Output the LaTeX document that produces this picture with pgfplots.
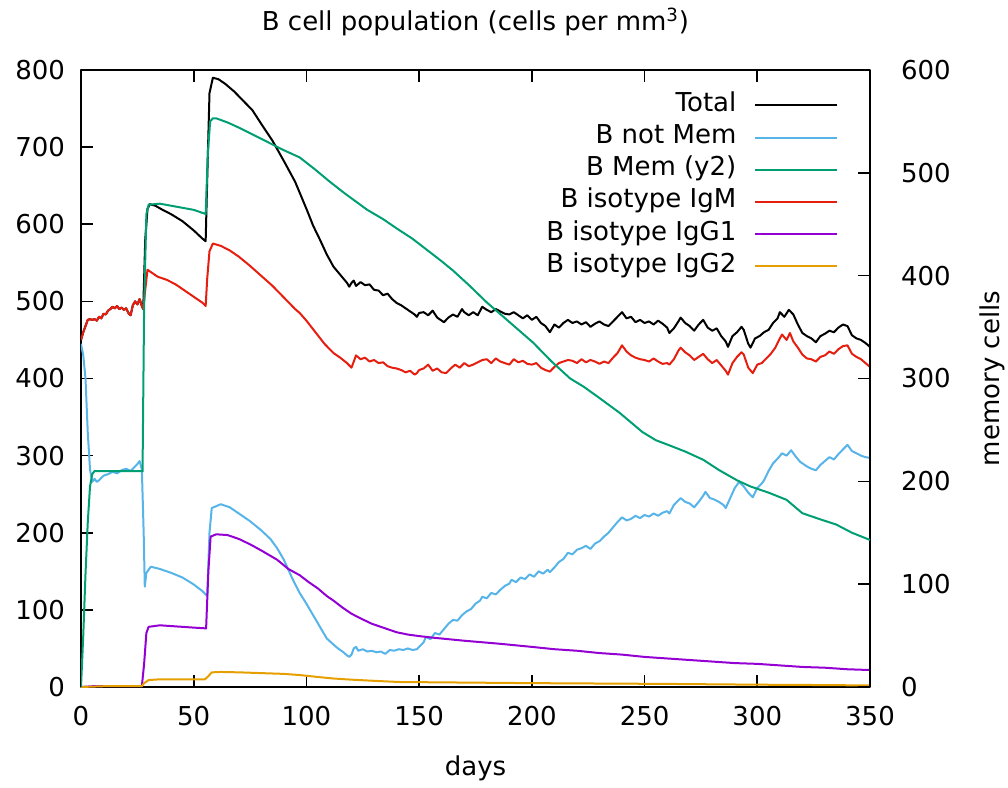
\documentclass[border=0pt]{standalone}
\usepackage{fontspec}
\setmainfont{DejaVu Sans}
\usepackage{pgfplots}
\pgfplotsset{compat=1.18}
\definecolor{cBlue}{RGB}{86,180,233}
\definecolor{cGreen}{RGB}{0,158,115}
\definecolor{cRed}{RGB}{229,30,16}
\definecolor{cPurple}{RGB}{148,0,211}
\definecolor{cOrange}{RGB}{230,159,0}
\begin{document}
\begin{tikzpicture}[x=1pt,y=1pt]
\useasboundingbox (-40.5,-50.5) rectangle (463.5,343.5);
\pgfplotsset{
  every axis/.append style={
    scale only axis, width=394.5pt, height=308.5pt,
    xmin=0, xmax=350,
    font=\fontsize{13}{15}\selectfont,
    /pgf/number format/assume math mode=true,
    tick align=inside, major tick length=6pt,
    every tick/.style={black, line width=0.8pt},
    axis line style={line width=0.9pt},
    tick label style={font=\fontsize{13}{15}\selectfont},
  }
}
\begin{axis}[
  ymin=0, ymax=800,
  xtick={0,50,...,350}, ytick={0,100,...,800},
  xtick pos=both, ytick pos=left,
  yticklabel style={xshift=-4.5pt},
  xticklabel style={yshift=-6pt},
  xlabel={days},
  xlabel style={at={(rel axis cs:0.5,0)}, anchor=center, yshift=-40.5pt},
  title={B cell population (cells per mm\textsuperscript{3})},
  title style={at={(rel axis cs:0.5,1)}, anchor=center, yshift=18pt, font=\fontsize{13}{15}\selectfont},
  legend style={at={(rel axis cs:0.968,0.976)}, anchor=north east, draw=none, fill=none,
    font=\fontsize{13}{15}\selectfont, row sep=0pt,
    nodes={inner ysep=0pt, text height=11pt, text depth=5.1pt},
    /tikz/every odd column/.append style={column sep=7pt}},
  legend cell align=right,
  legend plot pos=right,
  legend image code/.code={\draw[#1] (0pt,0pt) -- (41pt,0pt);},
  line join=round,
]
\addplot[black, line width=1pt] coordinates {
(0,450)(1,460)(2,468)(3,476)(4,477)(5,476)(6,477)(7,475)(8,480)(9,478)(10,484)(11,483)(12,488)(13,490)(14,493)(15,491)(16,494)(17,490)(18,492)(19,489)(20,491)(21,485)(22,482)(23,495)(24,500)(25,496)(26,503)(27,494)(27.6,490)(28.5,580)(29.5,620)(30.5,626)(33,624)(36,619)(40,613)(45,604)(50,592)(54,581)(55.3,578)(56,660)(57,770)(58.5,790)(61,788)(64,782)(68,772)(72,760)(76,748)(80,730)(85,708)(90,682)(95,655)(97,641)(100,620)(103,598)(106,580)(109,561)(112,545)(114,538)(116,531)(118,524)(119,519)(120,524)(121,527)(122,520)(124,525)(126,521)(128,522)(130,515)(132,514)(134,508)(136,510)(138,503)(140,498)(142,495)(144,491)(146,487)(148,483)(149,480)(150,485)(152,486)(154,482)(156,488)(158,479)(160,475)(161,473)(163,479)(165,483)(167,480)(169,490)(170,486)(172,482)(174,486)(176,482)(178,493)(180,489)(182,486)(184,490)(186,487)(188,484)(190,483)(192,486)(194,482)(196,478)(198,482)(200,476)(202,480)(204,472)(206,468)(208,460)(210,470)(212,466)(214,472)(216,476)(218,472)(220,474)(222,470)(224,473)(226,467)(228,471)(230,474)(232,470)(234,468)(236,474)(238,480)(240,486)(242,478)(244,480)(246,473)(248,476)(250,472)(252,474)(254,470)(256,475)(258,471)(260,466)(261,459)(263,465)(265,474)(266,479)(268,472)(270,468)(272,462)(274,470)(276,476)(278,466)(280,462)(282,465)(284,455)(286,448)(287,441)(289,455)(291,460)(293,467)(294,463)(296,445)(297,440)(299,452)(301,455)(303,460)(305,463)(307,472)(309,478)(310,486)(312,480)(314,489)(316,483)(318,470)(320,459)(322,455)(324,452)(326,447)(328,455)(330,458)(332,462)(334,460)(336,466)(338,470)(340,468)(342,456)(344,452)(346,450)(348,446)(350,441)
};
\addlegendentry{Total}
\addplot[cBlue, line width=1pt] coordinates {
(0,445)(1,430)(2,400)(3,330)(4,282)(5,266)(6,270)(7,266)(8,268)(10,274)(12,276)(14,279)(16,277)(18,281)(20,283)(22,280)(24,286)(25,289)(26,293)(27,282)(27.8,200)(28.3,130)(29,148)(31,156)(35,153)(40,148)(45,142)(50,133)(54,124)(56,118)(57,200)(58,232)(62,237)(66,233)(70,225)(75,215)(80,203)(84,192)(87,180)(90,165)(94,139)(97,122)(100,108)(104,88)(109,63)(112,55)(114,50)(116,46)(118,41)(119,39)(120,42)(121,50)(122,52)(123,47)(125,49)(127,46)(129,47)(131,45)(133,46)(135,43)(137,48)(139,47)(141,49)(143,48)(145,50)(147,48)(149,49)(150,52)(152,58)(153,65)(155,62)(157,70)(159,68)(161,75)(163,82)(165,87)(167,86)(169,93)(171,98)(173,101)(175,108)(177,112)(178,117)(180,115)(182,122)(184,120)(186,126)(188,131)(190,134)(191,139)(193,136)(195,142)(197,140)(199,146)(201,143)(203,150)(205,147)(207,152)(208,149)(210,155)(212,162)(214,166)(216,174)(218,172)(220,178)(222,180)(224,183)(226,179)(228,186)(230,189)(232,195)(234,200)(236,207)(238,214)(240,220)(242,216)(244,218)(246,222)(248,219)(250,223)(252,221)(254,225)(256,222)(258,226)(260,228)(261,225)(263,236)(265,242)(266,245)(268,240)(270,238)(272,233)(274,240)(276,248)(277,253)(279,245)(281,243)(283,240)(285,236)(286,232)(288,245)(290,258)(292,266)(294,260)(296,252)(298,246)(300,258)(302,264)(303,268)(305,280)(307,290)(309,296)(311,303)(313,300)(315,307)(317,299)(319,292)(320,290)(322,286)(324,283)(326,281)(328,288)(330,293)(332,298)(334,295)(336,302)(338,308)(340,314)(342,306)(344,303)(346,300)(348,298)(350,297)
};
\addlegendentry{B not Mem}
\addlegendimage{cGreen, line width=1pt}
\addlegendentry{B Mem (y2)}
\addplot[cRed, line width=1pt] coordinates {
(0,450)(1,460)(2,468)(3,476)(4,477)(5,476)(6,477)(7,475)(8,480)(9,478)(10,484)(11,483)(12,488)(13,490)(14,493)(15,491)(16,494)(17,490)(18,492)(19,489)(20,491)(21,485)(22,482)(23,495)(24,500)(25,496)(26,503)(27,494)(27.6,490)(28.5,515)(29.5,541)(31,538)(34,532)(38,528)(42,522)(46,514)(50,506)(54,498)(55.3,494)(56,530)(57,565)(58.5,575)(62,572)(66,566)(70,558)(75,546)(80,533)(85,520)(90,505)(95,490)(97,485)(100,475)(104,460)(108,445)(112,433)(115,427)(118,420)(120,414)(122,430)(124,425)(126,427)(128,422)(130,424)(132,420)(134,421)(136,416)(138,414)(140,413)(142,411)(144,408)(146,410)(148,405)(149,407)(150,411)(152,413)(154,418)(156,410)(158,413)(160,408)(162,407)(164,413)(166,418)(168,414)(170,420)(172,416)(174,418)(176,421)(178,424)(180,425)(182,420)(184,426)(186,422)(188,420)(190,418)(192,425)(194,421)(196,423)(198,419)(200,418)(202,420)(204,414)(206,411)(208,409)(210,415)(212,420)(214,422)(216,424)(218,423)(220,420)(222,425)(224,421)(226,424)(228,422)(230,419)(232,422)(234,420)(236,427)(238,433)(240,443)(242,435)(244,430)(246,427)(248,425)(250,424)(252,422)(254,426)(256,422)(258,419)(260,420)(261,418)(263,425)(265,436)(266,440)(268,434)(270,430)(272,424)(274,428)(276,432)(278,425)(280,420)(282,424)(284,417)(286,410)(287,405)(289,420)(291,428)(293,434)(294,431)(296,414)(298,407)(300,418)(302,420)(304,426)(306,432)(308,440)(310,452)(311,457)(313,450)(314.5,459)(316,448)(318,440)(320,431)(322,426)(324,425)(326,422)(328,428)(330,430)(332,435)(334,432)(336,438)(338,442)(340,443)(342,432)(344,428)(346,425)(348,420)(350,415)
};
\addlegendentry{B isotype IgM}
\addplot[cPurple, line width=1pt] coordinates {
(0,0)(5,1)(10,1)(20,1)(27,1)(28,30)(29,70)(30,78)(35,80)(40,79)(45,78)(50,77)(55.5,76)(56.5,150)(57.5,195)(60,198)(65,197)(70,192)(75,185)(80,177)(87,165)(92,153)(97,145)(101,136)(105,128)(109,118)(112,112)(116,103)(120,95)(124,89)(129,82)(134,77)(140,71)(145,68)(150,66)(156,64)(163,62)(170,60)(178,58)(186,56)(193,54)(200,52)(210,49)(220,47)(230,44)(240,42)(250,39)(260,37)(270,35)(280,33)(290,31)(300,30)(310,28)(320,26)(330,25)(340,23)(350,22)
};
\addlegendentry{B isotype IgG1}
\addplot[cOrange, line width=1pt] coordinates {
(0,0)(10,1)(20,1)(27,1)(28,5)(30,9)(35,10)(40,10)(45,10)(50,10)(55,10)(56.5,14)(58,19)(62,19.5)(70,19)(80,18)(90,17)(97,15.5)(105,13)(112,11)(120,9.5)(130,8)(141,6.5)(160,6)(180,5.5)(200,5)(230,4.5)(260,4)(300,3)(330,2.5)(350,2)
};
\addlegendentry{B isotype IgG2}
\end{axis}
\begin{axis}[
  ymin=0, ymax=600,
  axis x line=none, axis y line*=right,
  ytick={0,100,...,600},
  yticklabel style={xshift=12pt},
  ylabel={memory cells},
  ylabel style={at={(rel axis cs:1,0.5)}, anchor=center, yshift=-61pt},
]
\addplot[cGreen, line width=1pt] coordinates {
(0,0)(1,50)(2,110)(3,160)(4,195)(5,207)(6,210)(10,210)(15,210)(20,210)(27.3,210)(28,370)(29,460)(30,469)(35,470)(40,468)(45,466)(50,464)(55.3,460)(56.3,520)(57.3,550)(58.5,553)(60,553)(65,549)(70,544)(80,533)(90,522)(97,515)(104,503)(110,492)(117,480)(127,464)(134,455)(140,446)(147,436)(153.5,425)(160,414)(165,405)(172,391)(180,374)(190,355)(200.5,335)(209,316)(217,300)(223,292)(230,281)(239,266.5)(249,248)(255,240)(261,235)(268,229)(276,221)(283,211)(291,201)(297,195)(305,189)(313,182)(320,169)(328,163)(335,158)(342,150)(350,143)
};
\end{axis}
\end{tikzpicture}
\end{document}
